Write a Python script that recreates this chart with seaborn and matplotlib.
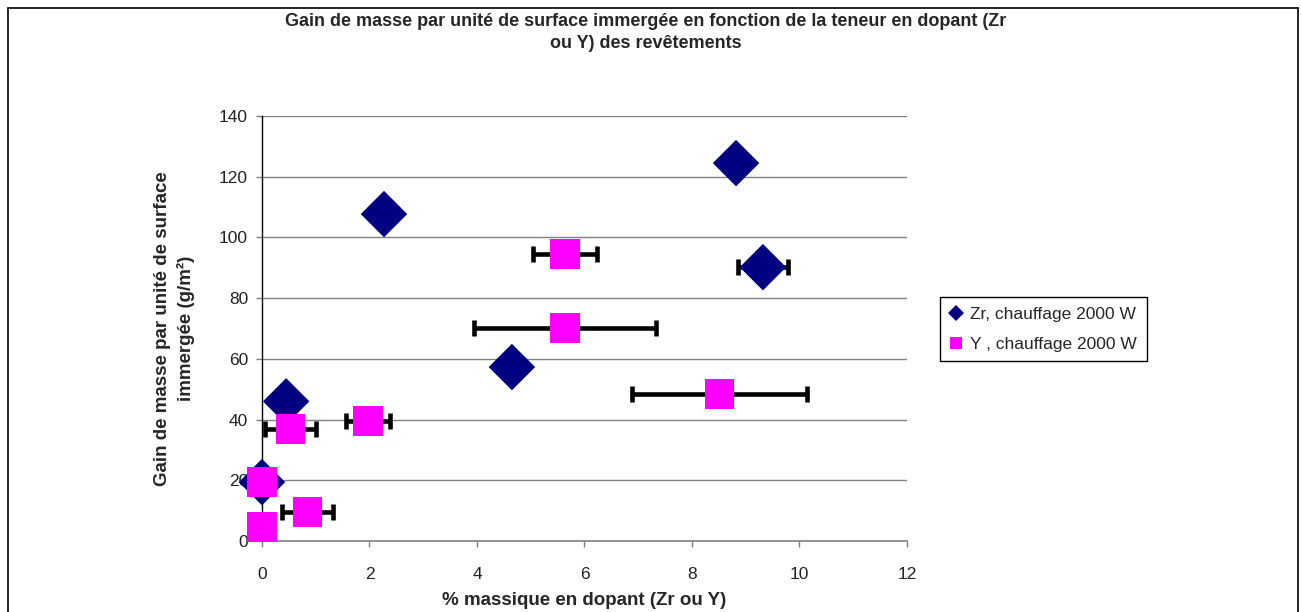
import matplotlib
matplotlib.use("Agg")
import matplotlib.pyplot as plt
from matplotlib.lines import Line2D
import seaborn as sns
import pandas as pd

# Data
zr_label = "Zr, chauffage 2000 W"
y_label = "Y , chauffage 2000 W"

zr_x = [0.0, 0.45, 2.27, 4.65, 8.82, 9.32]
zr_y = [19.4, 46.0, 107.7, 57.3, 124.5, 90.2]
zr_xerr = [0, 0, 0, 0, 0, 0.46]

y_x = [0.0, 0.0, 0.53, 0.85, 1.97, 5.64, 5.64, 8.51]
y_y = [19.4, 4.6, 36.9, 9.6, 39.5, 94.5, 70.2, 48.4]
y_xerr = [0, 0, 0.47, 0.47, 0.41, 0.59, 1.69, 1.63]

x_ticks = [0, 2, 4, 6, 8, 10, 12]
y_ticks = [0, 20, 40, 60, 80, 100, 120, 140]

colors = {zr_label: "#000080", y_label: "#FF00FF"}
markers = {zr_label: "D", y_label: "s"}
sizes = {zr_label: 560, y_label: 450}

df = pd.concat([
    pd.DataFrame({"x": zr_x, "y": zr_y, "xerr": zr_xerr, "serie": zr_label}),
    pd.DataFrame({"x": y_x, "y": y_y, "xerr": y_xerr, "serie": y_label}),
], ignore_index=True)

sns.set_style("white")
plt.rcParams["font.family"] = ["Liberation Sans", "DejaVu Sans"]

fig = plt.figure(figsize=(13.02, 6.12), dpi=100)
ax = fig.add_axes([0.2012, 0.1160, 0.4954, 0.6944])

# horizontal error bars (drawn under the markers)
err = df[df["xerr"] > 0]
ax.errorbar(err["x"], err["y"], xerr=err["xerr"], fmt="none", ecolor="black",
            elinewidth=3.3, capsize=5.5, capthick=3.3, zorder=2, clip_on=False)

sns.scatterplot(data=df, x="x", y="y", hue="serie", style="serie", size="serie",
                palette=colors, markers=markers, sizes=sizes, linewidth=0,
                legend=False, zorder=3, clip_on=False, ax=ax)

ax.set_xlim(0, 12)
ax.set_ylim(0, 140)
ax.set_xticks(x_ticks)
ax.set_yticks(y_ticks)
ax.set_xlabel("% massique en dopant (Zr ou Y)", fontsize=13.5, fontweight="bold", labelpad=7)
ax.set_ylabel("Gain de masse par unité de surface\nimmergée (g/m²)", fontsize=13.5,
              fontweight="bold", labelpad=17, linespacing=1.45)

ax.yaxis.grid(True, color="#808080", linewidth=1)
ax.set_axisbelow(True)
for s in ["top", "right"]:
    ax.spines[s].set_visible(False)
ax.spines["left"].set_color("black")
ax.spines["left"].set_linewidth(1)
ax.spines["bottom"].set_color("#808080")
ax.spines["bottom"].set_linewidth(1.2)
ax.tick_params(axis="x", direction="out", length=4, width=1, color="#808080",
               pad=15, labelsize=12.5, labelcolor="#222222")
ax.tick_params(axis="y", direction="out", length=4, width=1, color="#808080",
               pad=6, labelsize=12.5, labelcolor="#222222")
ax.tick_params(bottom=True, left=True)

# title
fig.text(0.496, 0.947, "Gain de masse par unité de surface immergée en fonction de la teneur en dopant (Zr\nou Y) des revêtements",
         ha="center", va="center", fontsize=13, fontweight="bold", linespacing=1.4)

# legend
handles = [Line2D([], [], linestyle="none", marker=markers[k], color=colors[k],
                  markersize=8 if k == zr_label else 9, markeredgewidth=0)
           for k in [zr_label, y_label]]
leg = fig.legend(handles, [zr_label, y_label], loc="upper left",
                 bbox_to_anchor=(940 / 1302, 1 - 297 / 612), fontsize=12.5,
                 frameon=True, fancybox=False, edgecolor="black", framealpha=1,
                 handlelength=0.8, handletextpad=0.4, borderpad=0.55, labelspacing=0.85,
                 borderaxespad=0)
leg.get_frame().set_linewidth(1)

# outer chart frame
fx0, fx1, fy = 8 / 1302, 1298 / 1302, 1 - 8 / 612
fig.add_artist(Line2D([fx0, fx1], [fy, fy], color="black", linewidth=1.2))
fig.add_artist(Line2D([fx0, fx0], [fy, 0], color="black", linewidth=1.2))
fig.add_artist(Line2D([fx1, fx1], [fy, 0], color="black", linewidth=1.2))

fig.savefig("out.png", dpi=100)
